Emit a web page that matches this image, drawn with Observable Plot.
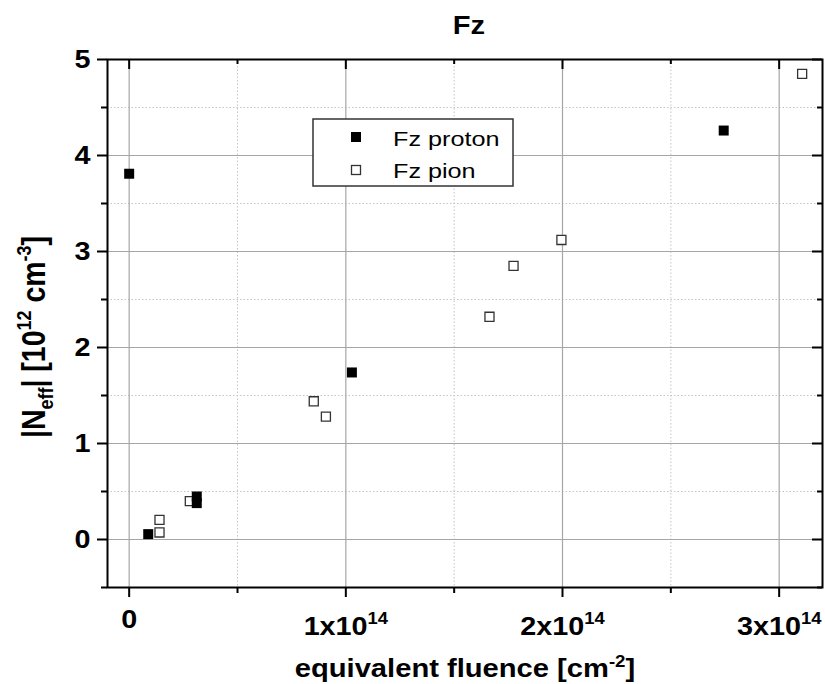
<!DOCTYPE html>
<html>
<head>
<meta charset="utf-8">
<script src="https://cdn.jsdelivr.net/npm/d3@7"></script>
<script src="https://cdn.jsdelivr.net/npm/@observablehq/plot@0.6"></script>
<style>
  html, body { margin: 0; padding: 0; background: #fff; }
  svg { display: block; }
</style>
</head>
<body>
<div id="chart"></div>
<script>
// ---- data ----
const protonX = [0, 0.088e14, 0.312e14, 0.312e14, 1.028e14, 2.744e14];
const protonY = [3.81, 0.056, 0.448, 0.379, 1.74, 4.26];
const pionX = [0.140e14, 0.140e14, 0.280e14, 0.852e14, 0.908e14, 1.663e14, 1.774e14, 1.995e14, 3.106e14];
const pionY = [0.073, 0.205, 0.40, 1.44, 1.28, 2.32, 2.85, 3.12, 4.85];

const xMajor = [0, 1e14, 2e14, 3e14];
const xMinor = [0.5e14, 1.5e14, 2.5e14];
const xTickLabels = ["0", "1x10", "2x10", "3x10"];
const xTickExp = ["", "14", "14", "14"];
const yMajor = [0, 1, 2, 3, 4, 5];
const yMinor = [-0.5, 0.5, 1.5, 2.5, 3.5, 4.5];
const yTickLabels = ["0", "1", "2", "3", "4", "5"];

const seriesNames = ["Fz proton", "Fz pion"];
const chartTitle = "Fz";

// ---- layout ----
const W = 825, H = 684;
const mL = 107, mR = 3, mT = 59, mB = 97;
const frameW = W - mL - mR;
const frameH = H - mT - mB;
const FONT = "'Liberation Sans', Arial, Helvetica, sans-serif";
const STRETCH = 1.15;

const protons = protonX.map((x, i) => ({x, y: protonY[i]}));
const pions = pionX.map((x, i) => ({x, y: pionY[i]}));

const svg = Plot.plot({
  width: W, height: H,
  marginLeft: mL, marginRight: mR, marginTop: mT, marginBottom: mB,
  style: {fontFamily: FONT, background: "white", overflow: "visible", color: "black"},
  x: {domain: [-0.1e14, 3.2e14]},
  y: {domain: [-0.5, 5]},
  marks: [
    Plot.gridX(xMinor, {stroke: "#c4c4c4", strokeOpacity: 1, strokeWidth: 1, strokeDasharray: "1.5,2"}),
    Plot.gridY(yMinor.filter(d => d > -0.5), {stroke: "#c4c4c4", strokeOpacity: 1, strokeWidth: 1, strokeDasharray: "1.5,2"}),
    Plot.gridX(xMajor, {stroke: "#a6a6a6", strokeOpacity: 1, strokeWidth: 1.2}),
    Plot.gridY(yMajor, {stroke: "#a6a6a6", strokeOpacity: 1, strokeWidth: 1.2}),
    // bottom axis (outward ticks)
    Plot.axisX(xMajor, {anchor: "bottom", tickSize: 10, tickPadding: 13, strokeWidth: 2,
      tickFormat: d => xTickLabels[xMajor.indexOf(d)], fontSize: 25, fontWeight: "bold", label: null}),
    Plot.axisX(xMinor, {anchor: "bottom", tickSize: 6, strokeWidth: 2, tickFormat: () => "", label: null}),
    // left axis (outward ticks)
    Plot.axisY(yMajor, {anchor: "left", tickSize: 10, tickPadding: 7, strokeWidth: 2,
      tickFormat: d => yTickLabels[yMajor.indexOf(d)], fontSize: 25, fontWeight: "bold", label: null}),
    Plot.axisY(yMinor, {anchor: "left", tickSize: 6, strokeWidth: 2, tickFormat: () => "", label: null}),
    // top inward ticks
    Plot.ruleX(xMajor, {insetBottom: frameH - 10, stroke: "black", strokeWidth: 2}),
    Plot.ruleX(xMinor, {insetBottom: frameH - 5, stroke: "black", strokeWidth: 2}),
    // right inward ticks
    Plot.ruleY(yMajor, {insetLeft: frameW - 10, stroke: "black", strokeWidth: 2}),
    Plot.ruleY(yMinor, {insetLeft: frameW - 5, stroke: "black", strokeWidth: 2}),
    Plot.frame({stroke: "black", strokeWidth: 2}),
    // data
    Plot.dot(pions, {x: "x", y: "y", symbol: "square", r: 5.1, fill: "white", stroke: "#333", strokeWidth: 1.3}),
    Plot.dot(protons, {x: "x", y: "y", symbol: "square", r: 5.64, fill: "black", stroke: "none"})
  ]
});

document.getElementById("chart").appendChild(svg);
const s = d3.select(svg);

// x tick labels: superscripts + horizontal stretch
s.selectAll('g[aria-label="x-axis tick label"] text').each(function () {
  const t = this.textContent;
  const sel = d3.select(this);
  const tr = sel.attr("transform") || "";
  sel.attr("transform", tr + ` scale(${STRETCH},1)`);
  const i = xTickLabels.indexOf(t);
  if (i < 0 || !xTickExp[i]) return;
  sel.text(null);
  sel.append("tspan").attr("dy", 7).text(t);
  sel.append("tspan").attr("dy", -11).attr("font-size", 16).text(xTickExp[i]);
});
s.selectAll('g[aria-label="y-axis tick label"] text').each(function () {
  const sel = d3.select(this);
  const tr = sel.attr("transform") || "";
  sel.attr("transform", tr + ` scale(${STRETCH},1)`);
});

// title
s.append("text")
  .attr("transform", `translate(469,34) scale(1.12,1)`)
  .attr("text-anchor", "middle")
  .attr("font-family", FONT).attr("font-weight", "bold").attr("font-size", 26)
  .text(chartTitle);

// x axis title
const xt = s.append("text")
  .attr("transform", `translate(465,677) scale(1.1,1)`)
  .attr("text-anchor", "middle")
  .attr("font-family", FONT).attr("font-weight", "bold").attr("font-size", 26.5);
xt.append("tspan").text("equivalent fluence [cm");
xt.append("tspan").attr("font-size", 17).attr("dy", -10).text("-2");
xt.append("tspan").attr("dy", 10).text("]");

// y axis title
const yt = s.append("text")
  .attr("transform", `translate(45,337) scale(1.15,1) rotate(-90)`)
  .attr("text-anchor", "middle")
  .attr("font-family", FONT).attr("font-weight", "bold").attr("font-size", 28.5);
yt.append("tspan").text("|N");
yt.append("tspan").attr("font-size", 18).attr("dy", 7).text("eff");
yt.append("tspan").attr("dy", -7).text("| [10");
yt.append("tspan").attr("font-size", 18).attr("dy", -12).text("12");
yt.append("tspan").attr("dy", 12).text(" cm");
yt.append("tspan").attr("font-size", 18).attr("dy", -12).text("-3");
yt.append("tspan").attr("dy", 12).text("]");

// legend
const lg = s.append("g").attr("font-family", FONT).attr("text-anchor", "start");
lg.append("rect").attr("x", 313).attr("y", 119).attr("width", 200).attr("height", 67)
  .attr("fill", "white").attr("stroke", "#333").attr("stroke-width", 1.5);
lg.append("rect").attr("x", 351).attr("y", 132).attr("width", 10).attr("height", 10).attr("fill", "black");
lg.append("rect").attr("x", 351.5).attr("y", 165.5).attr("width", 9).attr("height", 9)
  .attr("fill", "white").attr("stroke", "#333").attr("stroke-width", 1.3);
lg.append("text").attr("transform", "translate(393,146) scale(1.2,1)").attr("text-anchor", "start")
  .attr("font-size", 21).attr("fill", "black").text(seriesNames[0]);
lg.append("text").attr("transform", "translate(393,178) scale(1.2,1)").attr("text-anchor", "start")
  .attr("font-size", 21).attr("fill", "black").text(seriesNames[1]);
</script>
</body>
</html>
